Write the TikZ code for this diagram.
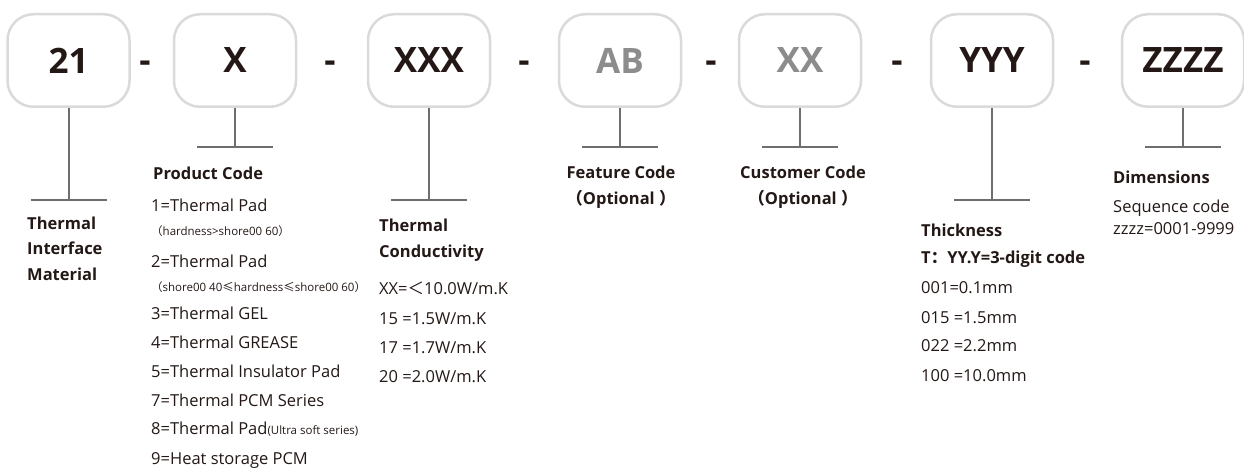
\documentclass[tikz,border=0pt]{standalone}
\usepackage{fontspec}
\setmainfont{Open Sans}
\newfontfamily\cjk{Noto Sans CJK SC}
\usetikzlibrary{positioning}
\definecolor{boxgray}{HTML}{DADADA}
\definecolor{linegray}{HTML}{6E6E6E}
\definecolor{ink}{HTML}{231815}
\definecolor{optgray}{HTML}{8C8C8C}
\newcommand{\notesize}{\fontsize{11.5}{13}\selectfont}

\begin{document}
\begin{tikzpicture}[x=1pt,y=-1pt,
	codebox/.style={draw=boxgray, 
		line width=2.5pt, 
		rounded corners=26pt,
		minimum width=122pt, 
		minimum height=92.5pt, 
		inner sep=0pt,
		text=ink,
		font=\fontsize{35}{35}\selectfont\bfseries},
	sep/.style={inner sep=0pt, text=ink, font=\fontsize{35}{35}\selectfont\bfseries},
	conn/.style={draw=linegray, line width=2pt},
	head/.style={inner sep=0pt, text=ink, font=\fontsize{16.5}{25.5}\selectfont\bfseries},
	item/.style={inner sep=0pt, text=ink, anchor=base west, font=\fontsize{16.5}{20}\selectfont}]
	\useasboundingbox (0,0) rectangle (1244,468);
	% code boxes
	\node[codebox] (b1) at (68.5,60.5) {21};
	\node[codebox,right=42pt of b1] (b2) {X};
	\node[codebox,right=69.5pt of b2] (b3) {XXX};
	\node[codebox,right=66.5pt of b3,text=optgray] (b4) {AB};
	\node[codebox,right=55.5pt of b4,text=optgray] (b5) {XX};
	\node[codebox,right=67.5pt of b5] (b6) {YYY};
	\node[codebox,right=66.5pt of b6] (b7) {ZZZZ};
	\node[sep] (d1) at (145,0 |- b1) {\vphantom{X}-};
	\node[sep] (d2) at (330,0 |- b1) {\vphantom{X}-};
	\node[sep] (d3) at (524,0 |- b1) {\vphantom{X}-};
	\node[sep] (d4) at (711,0 |- b1) {\vphantom{X}-};
	\node[sep] (d5) at (897,0 |- b1) {\vphantom{X}-};
	\node[sep] (d6) at (1085,0 |- b1) {\vphantom{X}-};
	% stems
	\draw[conn] (b1.south) -- ++(0,92) coordinate (t1);
	\draw[conn] (b2.south) -- ++(0,39) coordinate (t2);
	\draw[conn] (b3.south) -- ++(0,92) coordinate (t3);
	\draw[conn] (b4.south) -- ++(0,39) coordinate (t4);
	\draw[conn] (b5.south) -- ++(0,39) coordinate (t5);
	\draw[conn] (b6.south) -- ++(0,92) coordinate (t6);
	\draw[conn] (b7.south) -- ++(0,39) coordinate (t7);
	\draw[conn] ([xshift=-38pt]t1) -- ([xshift=38pt]t1);
	\draw[conn] ([xshift=-38pt]t2) -- ([xshift=38pt]t2);
	\draw[conn] ([xshift=-38pt]t3) -- ([xshift=38pt]t3);
	\draw[conn] ([xshift=-38pt]t4) -- ([xshift=38pt]t4);
	\draw[conn] ([xshift=-38pt]t5) -- ([xshift=38pt]t5);
	\draw[conn] ([xshift=-38pt]t6) -- ([xshift=38pt]t6);
	\draw[conn] ([xshift=-38pt]t7) -- ([xshift=38pt]t7);
	% 21
	\node[head,align=left,anchor=base west] (tim) at (27,280) {Thermal\\Interface\\Material};
	% X
	\node[head,anchor=base west] (pc) at (153,179) {Product Code};
	\node[item] (p1) at (151,211) {1=Thermal Pad};
	\node[item,font=\notesize] (p1n) at (151,235) {{\cjk（}hardness>shore00 60{\cjk）}};
	\node[item] (p2) at (151,267) {2=Thermal Pad};
	\node[item,font=\notesize] (p2n) at (151,291) {{\cjk（}shore00 40{\cjk ≤}hardness{\cjk ≤}shore00 60{\cjk）}};
	\node[item] (p3) at (151,319) {3=Thermal GEL};
	\node[item] (p4) at (151,348) {4=Thermal GREASE};
	\node[item] (p5) at (151,377) {5=Thermal Insulator Pad};
	\node[item] (p7) at (151,406) {7=Thermal PCM Series};
	\node[item] (p8) at (151,434) {8=Thermal Pad{\notesize(Ultra soft series)}};
	\node[item] (p9) at (151,464) {9=Heat storage PCM};
	% XXX
	\node[head,align=left,anchor=base west] (tc) at (379,257) {Thermal\\Conductivity};
	\node[item] (c1) at (379,294) {XX={\cjk ＜}10.0W/m.K};
	\node[item] (c2) at (379,324) {15 =1.5W/m.K};
	\node[item] (c3) at (379,353) {17 =1.7W/m.K};
	\node[item] (c4) at (379,382) {20 =2.0W/m.K};
	% AB, XX
	\node[head,align=center,anchor=base] (fc) at (621,204) {Feature Code\\{\cjk（}Optional {\cjk）}};
	\node[head,align=center,anchor=base] (cc) at (803,204) {Customer Code\\{\cjk（}Optional {\cjk）}};
	% YYY
	\node[head,align=left,anchor=base west] (th) at (921,263) {Thickness\\[1.5pt]T{\cjk：}YY.Y=3-digit code};
	\node[item] (h1) at (921,293) {001=0.1mm};
	\node[item] (h2) at (921,323) {015 =1.5mm};
	\node[item] (h3) at (921,351) {022 =2.2mm};
	\node[item] (h4) at (921,381) {100 =10.0mm};
	% ZZZZ
	\node[head,anchor=base west] (dm) at (1113,183) {Dimensions};
	\node[item] (z1) at (1113,212) {Sequence code};
	\node[item] (z2) at (1113,234) {zzzz=0001-9999};
\end{tikzpicture}
\end{document}
